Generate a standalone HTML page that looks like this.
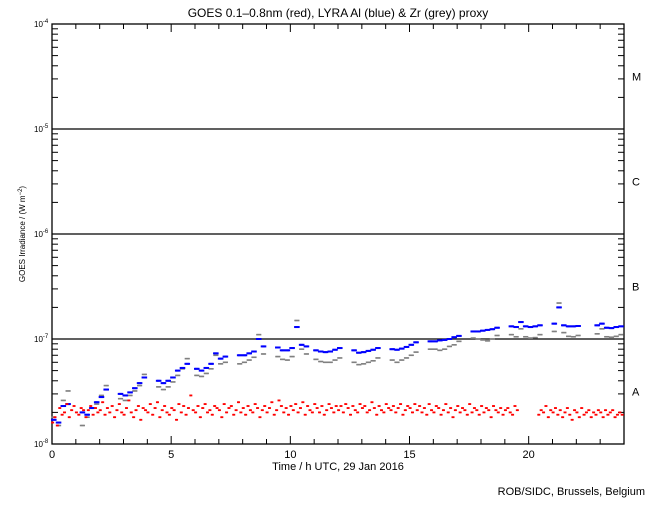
<!DOCTYPE html>
<html><head><meta charset="utf-8"><style>
body{margin:0;background:#fff;}
svg text{font-family:"Liberation Sans",sans-serif;fill:#000;}
</style></head><body>
<svg id="chart" width="650" height="500" viewBox="0 0 650 500" xmlns="http://www.w3.org/2000/svg">
<rect width="650" height="500" fill="#fff"/>
<text x="338" y="17" font-size="12" text-anchor="middle">GOES 0.1–0.8nm (red), LYRA Al (blue) &amp; Zr (grey) proxy</text>
<text x="338" y="470" font-size="11" text-anchor="middle">Time / h UTC, 29 Jan 2016</text>
<text transform="translate(25,234) rotate(-90)" font-size="8" text-anchor="middle">GOES Irradiance / (W m<tspan dy="-3" font-size="6">−2</tspan><tspan dy="3">)</tspan></text>
<text x="645" y="495" font-size="11" text-anchor="end">ROB/SIDC, Brussels, Belgium</text>
<g id="axes"></g>
<g id="marks"></g>
</svg>
<script>
const xTicks=[0,5,10,15,20];
const yDecades=[-8,-7,-6,-5,-4];
const classLabels=["A","B","C","M"];
const blueT0=0, blueStep=0.2;
const blueVals=[1.7,1.6,2.3,2.4,null,null,2.0,1.9,2.2,2.5, 2.8,3.3,null,null,3.0,2.9,3.1,3.4,3.8,4.3, null,null,4.0,3.8,4.0,4.3,5.0,5.3,5.8,null, 5.2,5.0,5.3,5.8,7.3,6.5,6.8,null,null,7.0, 7.0,7.3,7.6,10,8.5,null,null,8.3,7.8,7.8, 8.2,13,8.8,8.5,null,7.8,7.6,7.5,7.6,7.9, 8.2,null,null,7.8,7.4,7.5,7.7,7.9,8.2,null, null,8.0,7.9,8.1,8.4,8.8,9.3,null,null,9.5, 9.5,9.7,9.8,10.0,10.4,10.7,null,null,11.8,11.8, 12.0,12.2,12.4,12.8,null,null,13.2,13.0,14.5,13.2, 13.0,13.2,13.5,null,null,14.0,20,13.5,13.2,13.2, 13.3,null,null,null,13.5,14,12.8,12.7,13.0,13.2];
const greyVals=[1.8,1.5,2.6,3.2,null,null,1.5,1.8,2.2,2.4, 2.9,3.6,null,null,2.7,2.6,2.9,3.2,3.6,4.6, null,null,3.5,3.3,3.5,3.9,4.5,5.2,6.5,null, 4.5,4.4,4.7,5.2,7.0,5.8,6.0,null,null,5.8, 6.0,6.3,6.7,11,7.2,null,null,6.8,6.4,6.3, 6.8,15,8.0,7.2,null,6.4,6.1,6.0,6.0,6.3, 6.6,null,null,6.0,5.7,5.8,6.0,6.2,6.6,null, null,6.3,6.0,6.3,6.6,7.0,7.5,null,null,8.0, 8.0,7.8,8.0,8.5,8.8,9.5,null,null,10.2,10.0, 9.8,9.6,10.0,10.8,null,null,11,10.5,12.5,10.5, 10.2,10.3,11,null,null,11.8,22,11.5,10.6,10.5, 10.8,null,null,null,11.2,12.5,10.5,10.4,10.6,11.0];
const redT0=0, redStep=0.1;
const redVals=[
1.6,1.8,1.5,2.2,1.9,2.0,2.4,1.8,2.1,2.3, 2.0,1.9,2.2,2.1,1.8,2.1,2.3,1.9,2.2,2.0,
2.1,2.5,1.9,2.2,2.0,2.3,1.8,2.1,2.4,2.0, 1.9,2.2,2.6,2.0,1.8,2.1,2.3,1.7,2.2,2.1,
2.0,2.4,1.9,2.2,2.5,1.8,2.1,2.3,2.0,1.9, 2.2,2.1,1.7,2.4,2.0,2.3,1.9,2.2,2.9,2.1,
2.0,2.3,1.8,2.2,2.4,2.0,2.1,1.9,2.3,2.2, 2.1,1.8,2.4,2.0,2.2,2.3,1.9,2.1,2.5,2.0,
2.2,1.9,2.3,2.1,2.0,2.4,2.2,1.8,2.1,2.3, 2.0,2.2,2.5,1.9,2.1,2.6,2.3,2.0,2.2,1.9,
2.3,2.1,2.4,2.0,2.2,2.5,1.9,2.3,2.1,2.0, 2.4,2.2,2.0,2.3,1.9,2.1,2.4,2.2,2.0,2.3,
2.1,2.3,2.0,2.4,2.2,1.9,2.3,2.1,2.0,2.4, 2.2,2.3,2.0,2.1,2.5,2.2,1.9,2.3,2.1,2.0,
2.4,2.2,2.1,2.3,2.0,2.2,2.4,1.9,2.1,2.3, 2.2,2.0,2.4,2.1,2.3,2.0,2.2,1.9,2.4,2.1,
2.0,2.3,2.2,1.9,2.1,2.4,2.0,2.2,1.8,2.1, 2.3,2.0,2.2,2.1,1.9,2.4,2.0,2.2,2.1,1.9,
2.3,2.0,2.2,2.1,1.8,2.3,2.1,2.0,2.2,1.9, 2.1,2.2,2.0,1.9,2.3,2.1,null,null,null,null,
null,null,null,null,1.9,2.1,2.0,2.3,1.8,2.1, 2.0,2.2,1.9,2.1,1.8,2.0,2.2,1.9,1.7,2.1,
2.0,1.8,2.2,1.9,2.0,2.1,1.8,2.0,1.9,2.1, 2.0,1.8,2.1,1.9,2.0,2.1,1.8,1.9,2.0,1.9];
const X0=52,X1=624,Y0=24,Y1=444;
const xs=t=>X0+(t/24)*(X1-X0);
// values are in units of 1e-8 W m^-2
const ys=v=>Y1-Math.log10(v)*(Y1-Y0)/4;
const NS="http://www.w3.org/2000/svg";
const ax=document.getElementById('axes'), mk=document.getElementById('marks');
function mkEl(tag,attrs,parent){const e=document.createElementNS(NS,tag);for(const k in attrs)e.setAttribute(k,attrs[k]);parent.appendChild(e);return e;}
const fr=mkEl('rect',{x:X0,y:Y0,width:X1-X0,height:Y1-Y0,fill:'none',stroke:'#000','stroke-width':1.3},ax);


yDecades.forEach(d=>{
  const v=Math.pow(10,d+8); const y=ys(v);
  if(d>-8&&d<-4){const l=mkEl('line',{x1:X0,x2:X1,y1:y,y2:y,stroke:'#000','stroke-width':1.3},ax);
  
  }
  const t=mkEl('text',{x:34,y:y+3,'font-size':8},ax);
  
  
  t.innerHTML='10<tspan dy="-4" font-size="6">'+d+'</tspan>';
  if(d<-4){for(let m=2;m<=9;m++){const ym=ys(v*m);
    mkEl('line',{x1:X0,x2:X0+6,y1:ym,y2:ym,stroke:'#000'},ax);
    mkEl('line',{x1:X1-6,x2:X1,y1:ym,y2:ym,stroke:'#000'},ax);}}
});
classLabels.forEach((c,i)=>{const y=ys(Math.pow(10,i+0.5));
  const t=mkEl('text',{x:632,y:y+4,'font-size':11},ax);
  
  
  t.textContent=c;});
for(let h=0;h<=24;h++){const x=xs(h);const L=(h%5===0)?8:5;
  mkEl('line',{x1:x,x2:x,y1:Y1,y2:Y1-L,stroke:'#000'},ax);
  mkEl('line',{x1:x,x2:x,y1:Y0,y2:Y0+L,stroke:'#000'},ax);}
xTicks.forEach(h=>{const t=mkEl('text',{x:xs(h),y:458,'font-size':11,'text-anchor':'middle'},ax);
  
  
  t.textContent=h;});
function series(vals,t0,step,color,name,sub,sz){
  const g=mkEl('g',{},mk);
  
  
  vals.forEach((v,i)=>{if(v==null)return;const y=ys(v);
    for(let k=0;k<sub;k++){const x=xs(t0+i*step+k*step/sub);
      mkEl('rect',{x:x-sz/2,y:y-sz/2,width:sz,height:sz,fill:color},g);}
  });
}
series(greyVals,blueT0,blueStep,'#808080','zr-grey-series',4,1.6);
series(blueVals,blueT0,blueStep,'#0000ff','al-blue-series',4,2);
series(redVals,redT0,redStep,'#ff0000','goes-red-series',2,1.8);
</script>
</body></html>
